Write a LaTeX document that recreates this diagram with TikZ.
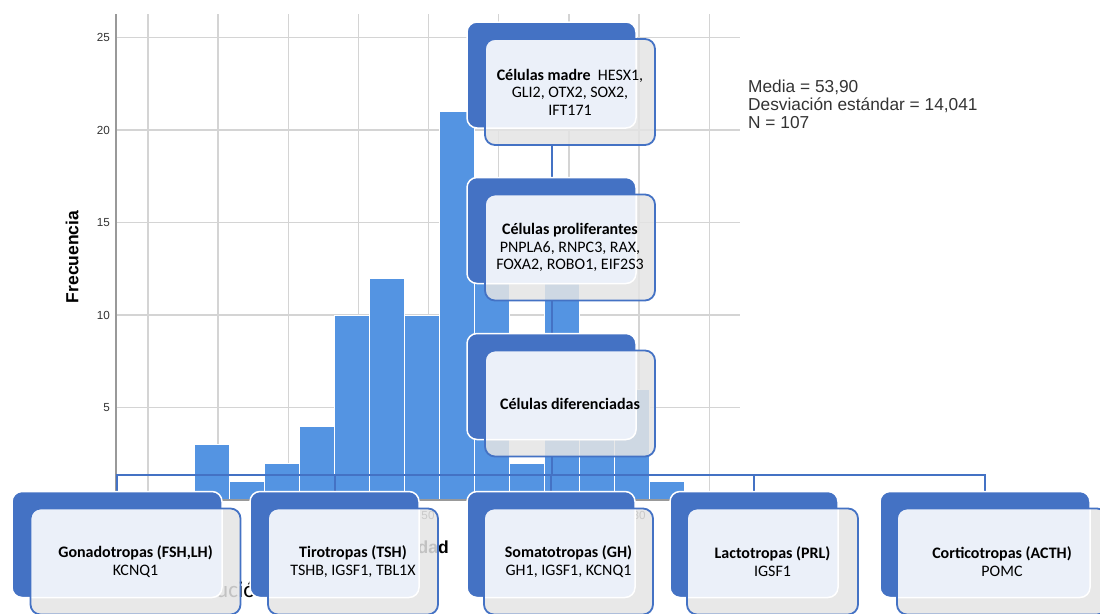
\documentclass[tikz,border=0pt]{standalone}
\usepackage{fontspec}
\setmainfont{Carlito}
\newfontfamily\spss{Liberation Sans}

\pgfdeclarelayer{hist}
\pgfdeclarelayer{links}
\pgfsetlayers{hist,links,main}

\definecolor{smblue}{HTML}{4472C4}
\definecolor{smlight}{HTML}{EBF0F9}
\definecolor{smgray}{HTML}{E4E4E4}
\definecolor{barblue}{HTML}{5494E2}
\definecolor{gridgray}{HTML}{D4D4D4}
\definecolor{txtgray}{HTML}{333333}

\tikzset{
  backbox/.style={rectangle, rounded corners=10pt, fill=smblue, draw=white,
    line width=1.5pt, outer sep=0pt, minimum height=106pt},
  frontbox/.style={rectangle, rounded corners=10pt, fill=smgray, fill opacity=0.85,
    text opacity=1, draw=smblue, line width=1.8pt, outer sep=0pt,
    minimum height=106pt, align=center, font=\fontsize{16}{17.5}\selectfont,
    path picture={
      \fill[smlight, fill opacity=1, rounded corners=10pt]
        (#1-b.south west) rectangle (#1-b.north east);
      \draw[white, line width=1.5pt, rounded corners=10pt]
        (#1-b.south west) rectangle (#1-b.north east);}},
  link/.style={draw=smblue, line width=2pt},
  grid/.style={draw=gridgray, line width=1.4pt},
  bar/.style={fill=barblue, draw=white, line width=1pt},
  ticklab/.style={font=\spss\fontsize{11.7}{14}\selectfont, text=txtgray, inner sep=0pt}
}

\begin{document}
\begin{tikzpicture}[x=1pt,y=-1pt]
\useasboundingbox (0,0) rectangle (1100,613);

% column of stages
\node[backbox, minimum width=169pt] (madre-b) at (551.5,75) {};
\node[frontbox=madre, minimum width=170pt] (madre) at (570,92)
  {\textbf{Células madre}\ \ HESX1,\\GLI2, OTX2, SOX2,\\IFT171};
\node[backbox, minimum width=169pt] (prolif-b) at (551.5,230.5) {};
\node[frontbox=prolif, minimum width=170pt] (prolif) at (570,247.5)
  {\textbf{Células proliferantes}\\PNPLA6, RNPC3, RAX,\\FOXA2, ROBO1, EIF2S3};
\node[backbox, minimum width=169pt] (dif-b) at (551.5,386.5) {};
\node[frontbox=dif, minimum width=170pt] (dif) at (570,403.5)
  {\textbf{Células diferenciadas}};

% cell types
\node[backbox, minimum width=210pt] (gona-b) at (117,544.5) {};
\node[frontbox=gona, minimum width=210pt] (gona) at (135.5,561.5)
  {\textbf{Gonadotropas (FSH,LH)}\\KCNQ1};
\node[backbox, minimum width=169pt] (tiro-b) at (334.5,544.5) {};
\node[frontbox=tiro, minimum width=170pt] (tiro) at (353,561.5)
  {\textbf{Tirotropas (TSH)}\\TSHB, IGSF1, TBL1X};
\node[backbox, minimum width=168pt] (soma-b) at (551,544.5) {};
\node[frontbox=soma, minimum width=169pt] (soma) at (568.5,561.5)
  {\textbf{Somatotropas (GH)}\\GH1, IGSF1, KCNQ1};
\node[backbox, minimum width=168pt] (lacto-b) at (754,544.5) {};
\node[frontbox=lacto, minimum width=171pt] (lacto) at (772.5,561.5)
  {\textbf{Lactotropas (PRL)}\\IGSF1};
\node[backbox, minimum width=210pt] (cort-b) at (985,544.5) {};
\node[frontbox=cort, minimum width=210pt] (cort) at (1002,561.5)
  {\textbf{Corticotropas (ACTH)}\\POMC};

\begin{pgfonlayer}{links}
\draw[link] (madre-b.south |- madre.south) -- (prolif-b.north);
\draw[link] (prolif-b.south |- prolif.south) -- (dif-b.north);
\coordinate (bus) at (551.5,474.5);
\draw[link] (dif-b.south |- dif.south) -- (bus);
\draw[link] (gona-b.north) -- (gona-b.north |- bus) -- (cort-b.north |- bus) -- (cort-b.north);
\foreach \n in {tiro,soma,lacto}
  \draw[link] (\n-b.north |- bus) -- (\n-b.north);
\end{pgfonlayer}

% histogram behind
\begin{pgfonlayer}{hist}
\foreach \v in {5,10,...,25}
  \draw[grid] (116,{500-18.5*\v}) -- (740,{500-18.5*\v});
\foreach \i in {0,...,8}
  \draw[grid] ({148+70.15*\i},14) -- ({148+70.15*\i},500);
\foreach \h [count=\k from 0] in {3,1,2,4,10,12,10,21,16,2,13,6,6,1}
  \draw[bar] ({194+35.07*\k},500) rectangle ++(35.07,{-18.5*\h});
\draw[gray!80, line width=1.2pt] (116,14) -- (116,500) -- (740,500);
\foreach \v in {5,10,...,25}
  \node[ticklab, anchor=east] (y\v) at (110,{500-18.5*\v}) {\v};
\node[ticklab] (x50) at (428,515) {50};
\node[ticklab] (x80) at (639,515) {80};
\node[rotate=90, font=\spss\bfseries\fontsize{17.5}{20}\selectfont] (ylab) at (72,257) {Frecuencia};
\node[anchor=base east, inner sep=0pt, font=\spss\bfseries\fontsize{17.5}{20}\selectfont] (xlab) at (449,553) {dad};
\node[anchor=base west, inner sep=0pt, font=\fontsize{23}{26}\selectfont] (pie) at (216,597) {ució};
\node[anchor=north west, inner sep=0pt, align=left, text=txtgray,
  font=\spss\fontsize{17.3}{18.2}\selectfont] (stats) at (748,79.3)
  {Media = 53,90\\Desviación estándar = 14,041\\N = 107};
\end{pgfonlayer}
\end{tikzpicture}
\end{document}
